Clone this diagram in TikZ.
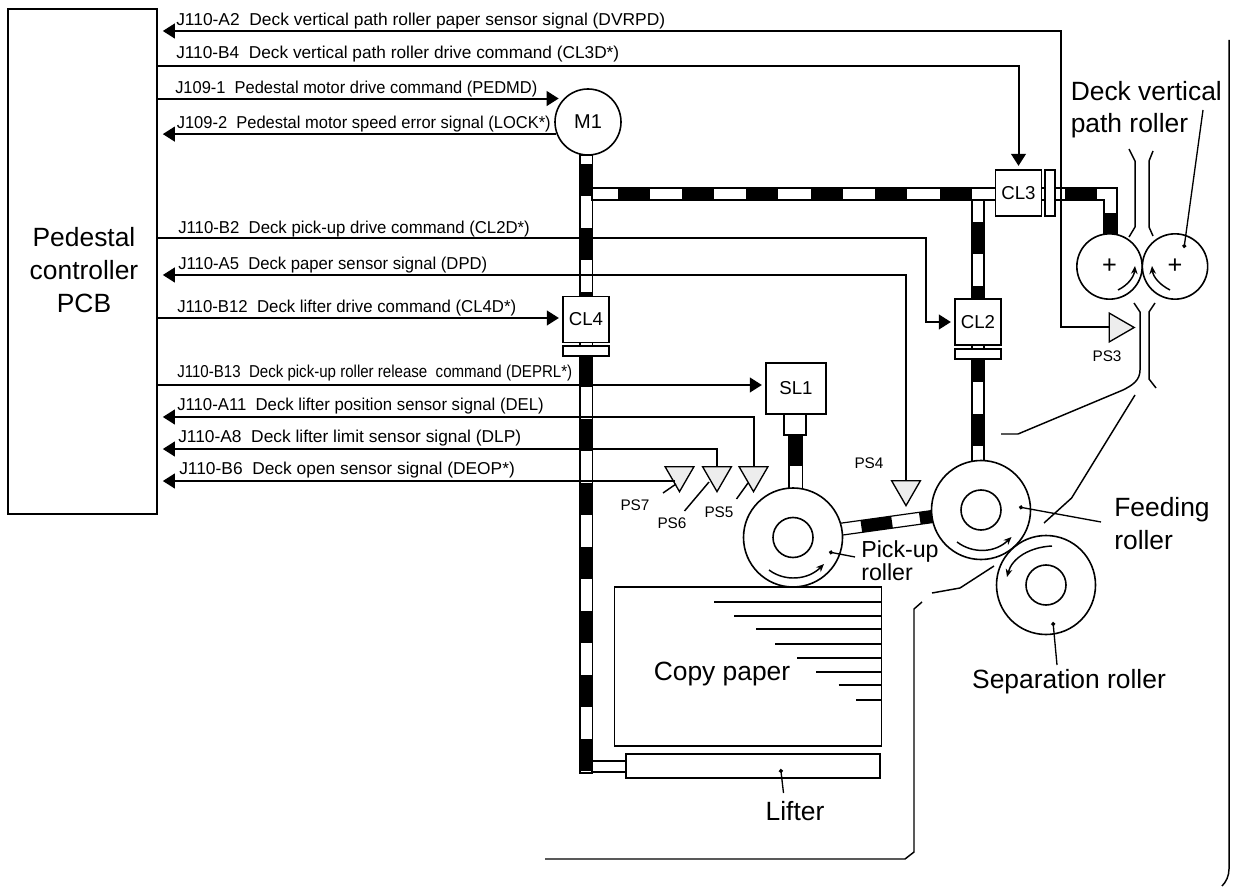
\documentclass[tikz,border=0pt]{standalone}
\usepackage{fontspec}
\setmainfont{Liberation Sans}
\usetikzlibrary{arrows.meta,shapes.geometric,calc,backgrounds}

\newcommand{\bigfnt}{\fontsize{19.8}{24.6}\selectfont}
\newcommand{\sigfnt}{\fontsize{12.9}{15}\selectfont}
\newcommand{\sigtxt}[2]{\resizebox{#1pt}{\height}{#2}}

\begin{document}
\begin{tikzpicture}[
    x=0.75pt, y=-0.75pt,
    box/.style={draw, fill=white, line width=1.2pt, inner sep=0pt, font=\fontsize{14}{16}\selectfont},
    clutch/.style={box, minimum width=34.5pt, minimum height=34.5pt},
    plate/.style={box, minimum width=34.5pt, minimum height=7.5pt},
    roller/.style={circle, draw, fill=white, line width=1.2pt, inner sep=0pt},
    sensor/.style={regular polygon, regular polygon sides=3, draw, fill=black!7, line width=1pt, minimum size=25pt, inner sep=0pt, shape border rotate=180},
    sig/.style={-{Triangle[length=9pt,width=11pt]}, line width=1.5pt, shorten >=2.5pt},
    topcb/.style={sig, shorten >=3.75pt},
    guide/.style={line width=1.1pt},
    leader/.style={-{Circle[length=3pt]}, line width=1pt},
    turn/.style={-{Stealth[length=6pt,width=5pt]}, line width=1.1pt},
    shaft/.style={draw, fill=white, line width=0.9pt},
    lbl/.style={anchor=base west, inner sep=0pt, font=\sigfnt},
    pslbl/.style={inner sep=0pt, font=\fontsize{11.5}{13}\selectfont},
    big/.style={inner sep=0pt, align=center, font=\bigfnt}
]
\useasboundingbox (0,0) rectangle (1234,887);

\node[box, minimum width=111.75pt, minimum height=378.75pt] (PCB) at (82.5,261.5) {};
\node[big] (PCBlbl) at (84,270) {Pedestal\\controller\\PCB};

\node[roller, minimum size=49.5pt, font=\fontsize{15}{17}\selectfont] (M1) at (588,122) {M1};
\node[clutch] (CL3) at (1018.5,193) {CL3};
\node[box, minimum width=7.5pt, minimum height=34.5pt] (CL3p) at (1050,193) {};
\node[clutch] (CL2) at (978,322) {CL2};
\node[plate] (CL2p) at (978,354) {};
\node[clutch] (CL4) at (586,319.5) {CL4};
\node[plate] (CL4p) at (586,351) {};
\node[box, minimum width=45pt, minimum height=38.25pt] (SL1) at (796,388.5) {SL1};
\node[box, minimum width=16.5pt, minimum height=15.75pt] (SL1s) at (795,424.5) {};

% rollers
\node[roller, minimum size=74.25pt] (pickup) at (793,537.5) {};
\node[roller, minimum size=30pt] (pickuph) at (pickup) {};
\node[roller, minimum size=74.25pt] (feed) at (981,510) {};
\node[roller, minimum size=30pt] (feedh) at (feed) {};
\node[roller, minimum size=74.25pt] (sep) at (1046,585) {};
\node[roller, minimum size=30pt] (seph) at (sep) {};
\node[roller, minimum size=49pt, font=\fontsize{19}{21}\selectfont] (vleft) at (1109.5,266.5) {+};
\node[roller, minimum size=49pt, font=\fontsize{19}{21}\selectfont] (vright) at (1175,266.5) {+};

\node[box, minimum width=200.25pt, minimum height=119.25pt] (paper) at (748,666.5) {};
\node[box, minimum width=190.5pt, minimum height=18pt] (lifter) at (753,766) {};

% sensors
\node[sensor] (PS3) at (1117.5,327.5) [shape border rotate=270] {};
\node[sensor] (PS4) at (906,489) {};
\node[sensor] (PS5) at (753.5,475) {};
\node[sensor] (PS6) at (717,475) {};
\node[sensor] (PS7) at (679.5,475) {};
\node[pslbl] (PS3l) at (1107,356) {PS3};
\node[pslbl] (PS4l) at (869,463) {PS4};
\node[pslbl] (PS5l) at (719,512) {PS5};
\node[pslbl] (PS6l) at (672,523) {PS6};
\node[pslbl] (PS7l) at (635,505) {PS7};

% shafts
\begin{scope}[on background layer]
\draw[shaft] (580,155) rectangle (592.5,773);
\foreach \ya in {164,228,292,355,419,483,547,611,675,739}
    \fill (580,\ya) rectangle (592.5,\ya+32);
\draw[shaft] (592,761) rectangle (626,772);
\draw[shaft] (592,188) -- (1117,188) -- (1117,236) -- (1104,236) -- (1104,200) -- (592,200) -- cycle;
\foreach \xa in {618,682,746,810.5,875,939.5,1065}
    \fill (\xa,188) rectangle (\xa+32,200);
\fill (1104,213) rectangle (1117,236);
\draw[shaft] (972,200) rectangle (984,465);
\foreach \ya in {222,286,350,414}
    \fill (972,\ya) rectangle (984,\ya+32);
\draw[shaft] (789,435) rectangle (802.5,490);
\fill (789,435) rectangle (802.5,466);
\begin{scope}[shift={(842.5,529)},rotate=7.9]
\draw[shaft] (-8,-6) rectangle (95,6);
\fill (19,-6) rectangle (50,6);
\fill (78,-6) rectangle (95,6);
\end{scope}
\end{scope}

% signals
\coordinate (a2turn) at (1061,31);
\draw[topcb] (PS3.west) -| (a2turn) -- (PCB.east |- a2turn);
\draw[sig] (PCB.east |- 0,66) -| (CL3.north);
\draw[sig, shorten >=3.75pt] (PCB.east |- M1.136) -- (M1.136);
\draw[topcb] (M1.201) -- (PCB.east |- M1.201);
\coordinate (b2turn) at (926,322);
\draw[sig] (PCB.east |- 0,238) -| (b2turn) -- (CL2.west);
\draw[topcb] (PS4.north) |- (PCB.east |- 0,275);
\draw[sig] (PCB.east |- 0,318) -- (CL4.west |- 0,318);
\draw[sig] (PCB.east |- 0,385) -- (SL1.west |- 0,385);
\draw[topcb] (PS5.north) |- (PCB.east |- 0,417);
\draw[topcb] (PS6.north) |- (PCB.east |- 0,449);
\coordinate (ps7in) at (675,481);
\draw[topcb] (ps7in) -- (PCB.east |- ps7in);

\node[lbl] (a2) at (176,26) {\sigtxt{366.75}{J110-A2\ \ Deck vertical path roller paper sensor signal (DVRPD)}};
\node[lbl] (b4) at (176,59) {\sigtxt{332.25}{J110-B4\ \ Deck vertical path roller drive command (CL3D*)}};
\node[lbl] (j1) at (175,94) {\sigtxt{271.5}{J109-1\ \ Pedestal motor drive command (PEDMD)}};
\node[lbl] (j2) at (176.5,129) {\sigtxt{280.5}{J109-2\ \ Pedestal motor speed error signal (LOCK*)}};
\node[lbl] (b2) at (178,233.5) {\sigtxt{263.7}{J110-B2\ \ Deck pick-up drive command (CL2D*)}};
\node[lbl] (a5) at (178,270) {\sigtxt{231.75}{J110-A5\ \ Deck paper sensor signal (DPD)}};
\node[lbl] (b12) at (177,312.5) {\sigtxt{254.25}{J110-B12\ \ Deck lifter drive command (CL4D*)}};
\node[lbl] (b13) at (177,378) {\sigtxt{296.25}{J110-B13\ \ Deck pick-up roller release\ \ command (DEPRL*)}};
\node[lbl] (a11) at (177,410.5) {\sigtxt{274.9}{J110-A11\ \ Deck lifter position sensor signal (DEL)}};
\node[lbl] (a8) at (178,442) {\sigtxt{257.25}{J110-A8\ \ Deck lifter limit sensor signal (DLP)}};
\node[lbl] (b6) at (179,474) {\sigtxt{251.7}{J110-B6\ \ Deck open sensor signal (DEOP*)}};

% roller labels
\node[big, anchor=base west, align=left] (vlbl) at (1070.5,133) {Deck vertical\\path roller};
\node[big, anchor=base west, align=left] (feedlbl) at (1114,549) {Feeding\\roller};
\node[big] (seplbl) at (1069,682) {Separation roller};
\node[big] (paperlbl) at (722,674) {Copy paper};
\node[big] (liftlbl) at (795,811) {Lifter};
\node[inner sep=0pt, align=left, anchor=base west, font=\fontsize{17.4}{15}\selectfont] (picklbl) at (861,580) {Pick-up\\roller};

% leaders
\coordinate (vdot) at (1184,248);
\coordinate (vtail) at (1203,110);
\draw[leader] (vtail) -- (vdot);
\coordinate (feeddot) at (1019,507);
\coordinate (feedtail) at (1101,522);
\draw[leader] (feedtail) -- (feeddot);
\coordinate (sepdot) at (1053,622);
\coordinate (septail) at (1057,665);
\draw[leader] (septail) -- (sepdot);
\coordinate (pickdot) at (829,552);
\coordinate (picktail) at (855,557);
\draw[leader] (picktail) -- (pickdot);
\coordinate (liftdot) at (780.7,769);
\coordinate (lifttail) at (783.5,793);
\draw[leader] (lifttail) -- (liftdot);
\draw[guide] (663,493) -- (676,484);
\draw[guide] (684.5,511) -- (709,482);
\draw[guide] (736.5,499) -- (748,483);

% rotation arrows
\draw[turn] (1118,290) .. controls (1128,285) and (1134,277) .. (1135,266);
\draw[turn] (1170,290) .. controls (1160,285) and (1153,277) .. (1152,266);
\draw[turn] (769,570) .. controls (785,582) and (808,580) .. (824,564);
\draw[turn] (957,542) .. controls (973,554) and (995,553) .. (1011.5,537);
\draw[turn] (1052,546) .. controls (1030,547) and (1012,558) .. (1007,577);

% paper stack
\foreach \xa/\ya in {714/602,734/616,756/629,775/644,797/658,816/672,838.5/685,856/700}
    \draw[guide] (\xa,\ya) -- (paper.east |- 0,\ya);

% paper path
\draw[guide] (1129,149) -- (1135,161) -- (1135,227) -- (1129,237);
\draw[guide] (1153,151) -- (1149,161) -- (1149,227) -- (1153,236);
\draw[guide] (1134,303) -- (1140,312) -- (1140,370) .. controls (1140,380) and (1133,385) .. (1123,390) -- (1018,434) -- (1001,434);
\draw[guide] (1155,303) -- (1149,312) -- (1149,379) -- (1156,388);
\draw[guide] (1135,395) -- (1071.6,498) -- (1044,523);
\draw[guide] (994,566) -- (960,588) -- (932,593);
\draw[guide] (922,602) -- (914,609) -- (914,852) -- (905,859) -- (545,859);
\draw[guide] (1229,40) -- (1229,869) .. controls (1229,876) and (1226,882) .. (1222,886);
\end{tikzpicture}
\end{document}
